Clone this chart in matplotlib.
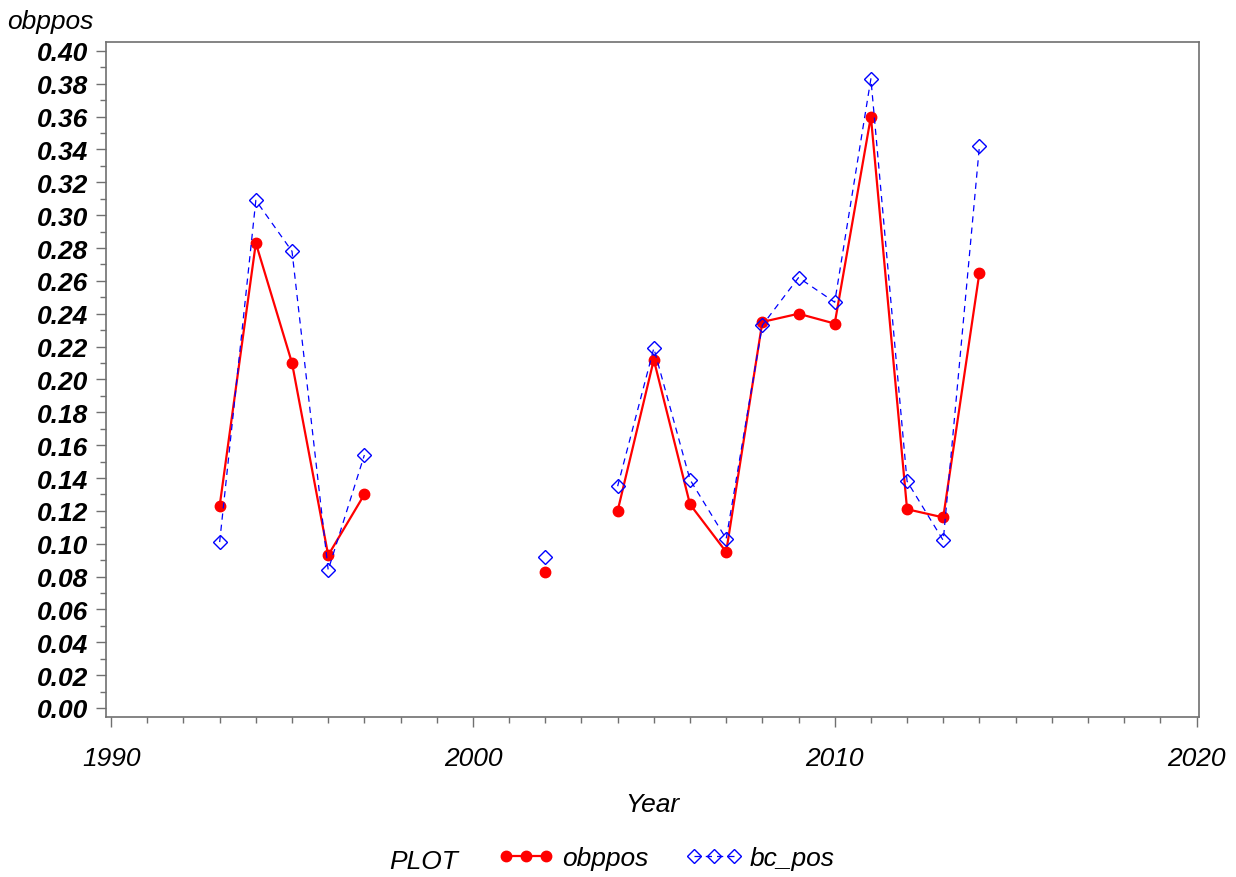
import numpy as np
import matplotlib
matplotlib.use("Agg")
import matplotlib.pyplot as plt
from matplotlib.ticker import MultipleLocator, FormatStrFormatter

# Data (NaN = no value that year)
years = [1993, 1994, 1995, 1996, 1997, 1998, 1999, 2000, 2001, 2002,
         2003, 2004, 2005, 2006, 2007, 2008, 2009, 2010, 2011, 2012, 2013, 2014]
nan = np.nan
obppos = [0.123, 0.283, 0.210, 0.093, 0.130, nan, nan, nan, nan, 0.083,
          nan, 0.120, 0.212, 0.124, 0.095, 0.235, 0.240, 0.234, 0.360, 0.121, 0.116, 0.265]
bc_pos = [0.101, 0.309, 0.278, 0.084, 0.154, nan, nan, nan, nan, 0.092,
          nan, 0.135, 0.219, 0.139, 0.103, 0.233, 0.262, 0.247, 0.383, 0.138, 0.102, 0.342]

plt.rcParams['font.family'] = ['Liberation Sans', 'DejaVu Sans']

fig = plt.figure(figsize=(12.36, 8.78), dpi=100)
ax = fig.add_axes([0.0858, 0.1822, 0.884, 0.769])

ax.plot(years, obppos, color="red", linewidth=1.6, marker="o",
        markersize=7.5, label="obppos")
ax.plot(years, bc_pos, color="blue", linewidth=0.9, linestyle=(0, (5, 4)),
        marker="D", markersize=6.8, markerfacecolor="none",
        markeredgecolor="blue", markeredgewidth=1, label="bc_pos")

ax.set_xlim(1989.86, 2020.06)
ax.set_ylim(-0.0055, 0.4055)
ax.xaxis.set_major_locator(MultipleLocator(10))
ax.xaxis.set_minor_locator(MultipleLocator(1))
ax.yaxis.set_major_locator(MultipleLocator(0.02))
ax.yaxis.set_minor_locator(MultipleLocator(0.01))
ax.yaxis.set_major_formatter(FormatStrFormatter("%.2f"))

for s in ax.spines.values():
    s.set_color("#707070")
    s.set_linewidth(1.2)
ax.tick_params(which="major", direction="out", length=7, width=1, color="#707070",
               labelsize=19, pad=6)
ax.tick_params(which="minor", direction="out", length=4, width=1, color="#707070")
ax.tick_params(axis="x", which="major", pad=14)
for lab in ax.get_yticklabels():
    lab.set_fontstyle("italic")
    lab.set_fontweight("bold")
for lab in ax.get_xticklabels():
    lab.set_fontstyle("italic")

ax.set_xlabel("Year", fontsize=19, fontstyle="italic", labelpad=16)
fig.text(0.006, 0.975, "obppos", fontsize=19, fontstyle="italic", va="center", ha="left")

fig.text(0.315, 0.005, "PLOT", fontsize=19, fontstyle="italic", va="bottom", ha="left")
fig.legend(loc="lower left", bbox_to_anchor=(0.384, -0.019), ncol=2, frameon=False,
           numpoints=3, handlelength=2.1, columnspacing=1.45, handletextpad=0.3,
           prop={"size": 19, "style": "italic"})

fig.savefig("out.png", dpi=100)
